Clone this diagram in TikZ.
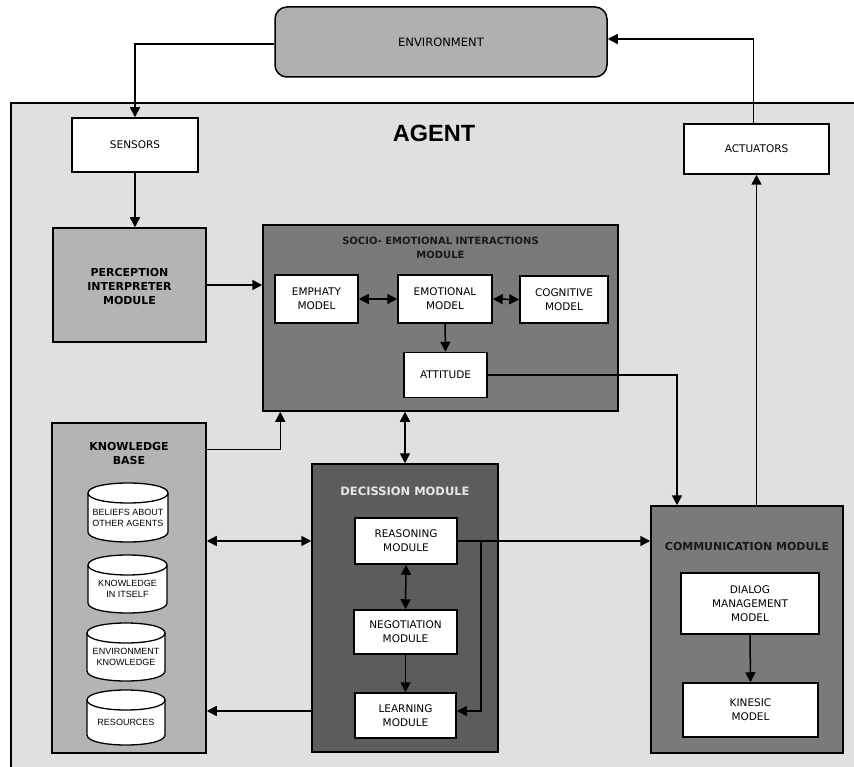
\documentclass[tikz,border=0pt]{standalone}
\usepackage{fontspec}
\setmainfont{DejaVu Sans}
\newfontfamily\agentfont{Liberation Sans}
\newfontfamily\cylfont{Liberation Sans}
\usetikzlibrary{arrows.meta}
\definecolor{envgray}{HTML}{B0B0B0}
\definecolor{agentgray}{HTML}{E0E0E0}
\definecolor{lightmod}{HTML}{B4B4B4}
\definecolor{midmod}{HTML}{7A7A7A}
\definecolor{darkmod}{HTML}{5C5C5C}
\definecolor{titlelight}{HTML}{E8E8E8}
\tikzset{
  arr/.style={line width=1.5pt, -{Triangle[length=10pt,width=10pt]}},
  darr/.style={line width=1.5pt, {Triangle[length=10pt,width=10pt]}-{Triangle[length=10pt,width=10pt]}},
  wbox/.style={draw, line width=1.5pt, fill=white, align=center, inner sep=0pt,
    font=\fontsize{10.5pt}{14pt}\selectfont},
  modbox/.style={draw, line width=1.5pt, inner sep=0pt},
  btitle/.style={align=center, inner sep=0pt, font=\fontsize{10.5pt}{14pt}\selectfont\bfseries},
  cyl/.style={draw, line width=1.3pt, fill=white},
  cylline/.style={draw, line width=1.3pt},
  cyltext/.style={align=center, inner sep=0pt, font=\cylfont\fontsize{9pt}{11pt}\selectfont}
}
\newcommand{\kbcyl}[6]{%
  \pgfmathsetmacro{\cyA}{#2+10}%
  \pgfmathsetmacro{\cyT}{#2-3.33}%
  \pgfmathsetmacro{\cyB}{#4-10}%
  \pgfmathsetmacro{\cyBB}{#4+3.33}%
  \pgfmathsetmacro{\cyC}{#2+23.33}%
  \pgfmathsetmacro{\cyM}{(#1+#3)/2}%
  \pgfmathsetmacro{\cyN}{(#2+#4+10)/2}%
  \draw[cyl] (#1,\cyA) .. controls (#1,\cyT) and (#3,\cyT) .. (#3,\cyA) -- (#3,\cyB)
     .. controls (#3,\cyBB) and (#1,\cyBB) .. (#1,\cyB) -- cycle;
  \draw[cylline] (#1,\cyA) .. controls (#1,\cyC) and (#3,\cyC) .. (#3,\cyA);
  \node[cyltext] (#5) at (\cyM,\cyN) {#6};
}
\begin{document}
\begin{tikzpicture}[x=1pt,y=-1pt]
\useasboundingbox (0,0) rectangle (854,767);
\begin{scope}
\clip (0,0) rectangle (854,767);
% agent area
\draw[line width=1.5pt, fill=agentgray] (11,103) rectangle (880,790);
\end{scope}
\node[font=\agentfont\fontsize{23.5pt}{23pt}\selectfont\bfseries, inner sep=0pt] (agentlabel) at (434,133) {AGENT};

% environment
\node[draw, line width=1.5pt, fill=envgray, rounded corners=12pt, minimum width=332pt, minimum height=70pt,
  font=\fontsize{11.5pt}{14pt}\selectfont] (env) at (441,42) {ENVIRONMENT};

% sensors / actuators
\node[wbox, minimum width=126pt, minimum height=54pt] (sensors) at (135,145) {SENSORS};
\node[wbox, minimum width=145pt, minimum height=50pt] (actuators) at (756.5,149) {ACTUATORS};

% perception
\node[modbox, fill=lightmod, minimum width=153pt, minimum height=114pt] (perception) at (129.5,285) {};
\node[btitle, font=\fontsize{11pt}{14pt}\selectfont\bfseries] (perctitle) at (129.5,286) {PERCEPTION\\INTERPRETER\\MODULE};

% socio-emotional module
\node[modbox, fill=midmod, minimum width=355pt, minimum height=186pt] (seim) at (440.5,318) {};
\node[btitle, font=\fontsize{10pt}{14pt}\selectfont\bfseries, text=black!90] (seimtitle) at (440.5,248) {SOCIO- EMOTIONAL INTERACTIONS\\MODULE};
\node[wbox, minimum width=83pt, minimum height=48pt] (emphaty) at (316.5,299) {EMPHATY\\MODEL};
\node[wbox, minimum width=94pt, minimum height=48pt] (emotional) at (445,299) {EMOTIONAL\\MODEL};
\node[wbox, minimum width=88pt, minimum height=47pt] (cognitive) at (564,299.5) {COGNITIVE\\MODEL};
\node[wbox, minimum width=83pt, minimum height=45pt] (attitude) at (445.5,375) {ATTITUDE};

% knowledge base
\node[modbox, fill=lightmod, minimum width=154pt, minimum height=330pt] (kb) at (129,588) {};
\node[btitle, font=\fontsize{11pt}{14pt}\selectfont\bfseries] (kbtitle) at (129,453) {KNOWLEDGE\\BASE};
\kbcyl{88}{483}{168}{542}{beliefs}{BELIEFS ABOUT\\OTHER AGENTS}
\kbcyl{88}{555}{167}{613}{itself}{KNOWLEDGE\\IN ITSELF}
\kbcyl{87}{623}{165}{681}{envknow}{ENVIRONMENT\\KNOWLEDGE}
\kbcyl{87}{690}{165}{745}{resources}{RESOURCES}

% decision module
\node[modbox, fill=darkmod, minimum width=186pt, minimum height=288pt] (decision) at (405,608) {};
\node[btitle, font=\fontsize{11.5pt}{14pt}\selectfont\bfseries, text=titlelight] (dectitle) at (405,491) {DECISSION MODULE};
\node[wbox, minimum width=102pt, minimum height=46pt] (reasoning) at (406,541) {REASONING\\MODULE};
\node[wbox, minimum width=103pt, minimum height=44pt] (negotiation) at (405.5,632) {NEGOTIATION\\MODULE};
\node[wbox, minimum width=101pt, minimum height=45pt] (learning) at (405.5,715.5) {LEARNING\\MODULE};

% communication module
\node[modbox, fill=midmod, minimum width=192pt, minimum height=247pt] (comm) at (747,629.5) {};
\node[btitle, font=\fontsize{11pt}{14pt}\selectfont\bfseries, text=black!90] (commtitle) at (747,546) {COMMUNICATION MODULE};
\node[wbox, minimum width=138pt, minimum height=61pt] (dialog) at (750,603.5) {DIALOG\\MANAGEMENT\\MODEL};
\node[wbox, minimum width=135pt, minimum height=54pt] (kinesic) at (750.5,710) {KINESIC\\MODEL};

% connectors
\draw[arr] ([yshift=-2pt]env.west) -| (sensors.north);
\draw[arr] ([xshift=-3pt]actuators.north) |- ([yshift=3pt]env.east);
\draw[arr] (sensors.south) -- (sensors.south |- perception.north);
\draw[arr] (perception.east) -- (perception.east -| seim.west);
\draw[darr] (emphaty.east) -- (emotional.west);
\draw[darr] (emotional.east) -- (cognitive.west);
\draw[arr] (emotional.south) -- (attitude.north);
\draw[arr] (attitude.east) -| ([xshift=-70pt]comm.north);
\draw[arr] ([yshift=-27pt]kb.north east) -| ([xshift=18pt]seim.south west);
\draw[darr] (seim.south -| decision.north) -- (decision.north);
\draw[darr] (kb.east |- reasoning.east) -- (decision.west |- reasoning.east);
\draw[arr] ([yshift=4.5pt]decision.west |- learning.west) -- ([yshift=4.5pt]kb.east |- learning.west);
\draw[darr] (reasoning.south) -- (negotiation.north);
\draw[arr] (negotiation.south) -- (learning.north);
\draw[arr] ([xshift=23pt]reasoning.east) |- ([yshift=4.5pt]learning.east);
\draw[arr] (reasoning.east) -- (reasoning.east -| comm.west);
\draw[arr] (dialog.south) -- (kinesic.north);
\draw[arr] (comm.north -| actuators.south) -- (actuators.south);
\end{tikzpicture}
\end{document}
